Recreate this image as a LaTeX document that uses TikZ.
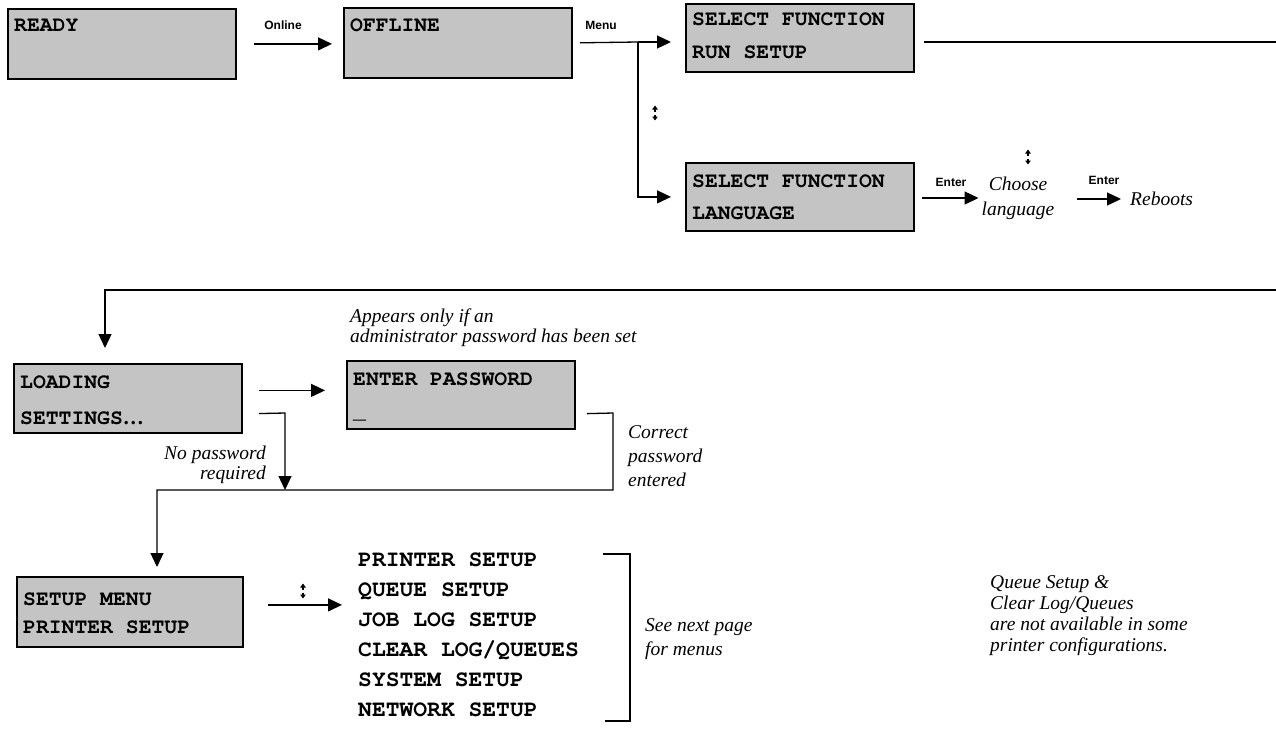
\documentclass[tikz,border=0pt]{standalone}
\usepackage[T1]{fontenc}
\usepackage{fontspec}
\setmainfont{Liberation Serif}
\newfontfamily\lblfamily{Liberation Sans}
\usetikzlibrary{arrows.meta}
\definecolor{lcdgray}{HTML}{C4C4C4}
\newcommand{\crfont}[1]{\fontencoding{T1}\fontfamily{pcr}\fontseries{b}\fontshape{n}\fontsize{#1}{#1}\selectfont}
\newcommand{\itfont}[1]{\rmfamily\itshape\fontsize{19.5}{#1}\selectfont}
\tikzset{
  lcd/.style={draw=black, line width=1.8pt, fill=lcdgray, minimum width=228pt,
              minimum height=68pt, inner sep=0pt, anchor=north west},
  lcdtxt/.style={anchor=base west, inner sep=0pt, font=\crfont{21.4}},
  listtxt/.style={anchor=base west, inner sep=0pt, font=\crfont{23}},
  lbl/.style={inner sep=0pt, font=\lblfamily\bfseries\fontsize{12}{14}\selectfont},
  note/.style={inner sep=0pt, align=left},
  conn/.style={line width=1.3pt},
  arr/.style={conn, -{Triangle[length=14pt,width=13pt]}},
  updown/.pic={
    \draw[line width=1.1pt,-{Triangle[length=4pt,width=5.5pt]}] (0,-1.5) -- (0,-7.5);
    \draw[line width=1.1pt,-{Triangle[length=4pt,width=5.5pt]}] (0,1.5) -- (0,7.5);
  }
}
\begin{document}
\begin{tikzpicture}[x=1pt,y=-1pt]
\useasboundingbox (0,0) rectangle (1276,729);

% ---------- top row ----------
\node[lcd, minimum height=70pt] (ready) at (7,8) {};
\node[lcdtxt] (readyt) at (14,31) {READY};
\node[lcd, minimum height=70pt] (offline) at (343,7) {};
\node[lcdtxt] (offlinet) at (350,31) {OFFLINE};
\node[lbl] (online) at (283,25) {Online};
\draw[arr, shorten <=17pt, shorten >=11pt] (ready.east) -- (ready.east -| offline.west);

\node[lcd] (runsetup) at (685,3) {};
\node[lcdtxt] (rs1) at (692,25) {SELECT FUNCTION};
\node[lcdtxt] (rs2) at (692,58) {RUN SETUP};

\node[lcd] (language) at (685,162) {};
\node[lcdtxt] (lg1) at (692,187) {SELECT FUNCTION};
\node[lcdtxt] (lg2) at (692,219) {LANGUAGE};

\coordinate (j1) at (638,42);
\node[lbl] (menu) at (601,25) {Menu};
\draw[conn, shorten <=7pt] (offline.east) -- (j1);
\draw[arr, shorten >=14pt] (j1) -- (j1 -| runsetup.west);
\draw[arr, shorten >=14pt] (j1) |- (language.west);
\pic at (655,113) {updown};

\coordinate (rEnd) at (1276,42);
\draw[conn, shorten <=9pt] (runsetup.east |- j1) -- (rEnd);

\node[note, align=center, font=\itfont{25}] (choose) at (1018,198) {Choose\\language};
\pic at (1028,157) {updown};
\node[lbl] (enter1) at (951,182) {Enter};
\draw[arr, shorten <=7pt, shorten >=3pt] (language.east |- choose) -- (choose.west);
\node[note, anchor=west, font=\itfont{20}] (reboots) at (1130,199) {Reboots};
\node[lbl] (enter2) at (1104,180) {Enter};
\draw[arr, shorten <=22pt, shorten >=9pt] (choose.east |- reboots.west) -- (reboots.west);

% ---------- middle ----------
\node[lcd, minimum height=69pt] (loading) at (13,363) {};
\node[lcdtxt] (ld1) at (20,388) {LOADING};
\node[lcdtxt] (ld2) at (20,424) {SETTINGS{\rmfamily\bfseries\fontsize{21}{21}\selectfont …}};

\node[lcd] (enterpw) at (346,360) {};
\node[lcdtxt] (ep1) at (353,385) {ENTER PASSWORD};
\node[lcdtxt] (ep2) at (353,418) {\_};

\node[note, anchor=west, font=\itfont{20}] (appears) at (350,328)
  {Appears only if an\\administrator password has been set};

\node[lcd, minimum height=70pt, minimum width=226pt] (setup) at (16,576) {};

\coordinate (c2) at (105,290);
\coordinate (rEnd2) at (1276,290);
\draw[arr, shorten >=15pt] (rEnd2) -- (c2) -- (c2 |- loading.north);

\draw[arr, shorten <=16pt, shorten >=21pt] ([yshift=8pt]loading.east) -- ([yshift=8pt]loading.east -| enterpw.west);

\coordinate (c3) at (285,413);
\coordinate (c5) at (613,413);
\coordinate (c6) at (613,490);
\coordinate (c7) at (157,490);
\draw[arr, shorten <=16pt] ([yshift=-15.5pt]loading.east) -- (c3) -- (c3 |- c6);
\draw[arr, shorten <=11pt, shorten >=9pt] ([yshift=-19pt]enterpw.east) -- (c5) -- (c6) -- (c7) -- (c7 |- setup.north);

\node[note, align=right, anchor=east, font=\itfont{20}] (nopw) at (266,465) {No password\\required};
\node[note, anchor=west, font=\itfont{24}] (correct) at (628,456) {Correct\\password\\entered};

% ---------- bottom ----------
\node[lcdtxt] (su1) at (23,605) {SETUP MENU};
\node[lcdtxt] (su2) at (23,633) {PRINTER SETUP};

\node[listtxt] (m1) at (358,566.5) {PRINTER SETUP};
\node[listtxt] (m2) at (358,596.5) {QUEUE SETUP};
\node[listtxt] (m3) at (358,626.5) {JOB LOG SETUP};
\node[listtxt] (m4) at (358,656.5) {CLEAR LOG/QUEUES};
\node[listtxt] (m5) at (358,686.5) {SYSTEM SETUP};
\node[listtxt] (m6) at (358,716.5) {NETWORK SETUP};

\pic at (303,591) {updown};
\draw[arr, shorten <=24pt, shorten >=16pt] ([yshift=7pt]setup.east) -- ([yshift=7pt]setup.east -| m1.west);

\draw[conn] (603,554) -- (630,554) -- (630,721) -- (605,721);
\node[note, anchor=west, font=\itfont{24}] (seenext) at (645,639) {See next page\\for menus};

\node[note, anchor=west, font=\itfont{21}] (qnote) at (990,615.5)
  {Queue Setup \&\\Clear Log/Queues\\are not available in some\\printer configurations.};
\end{tikzpicture}
\end{document}
